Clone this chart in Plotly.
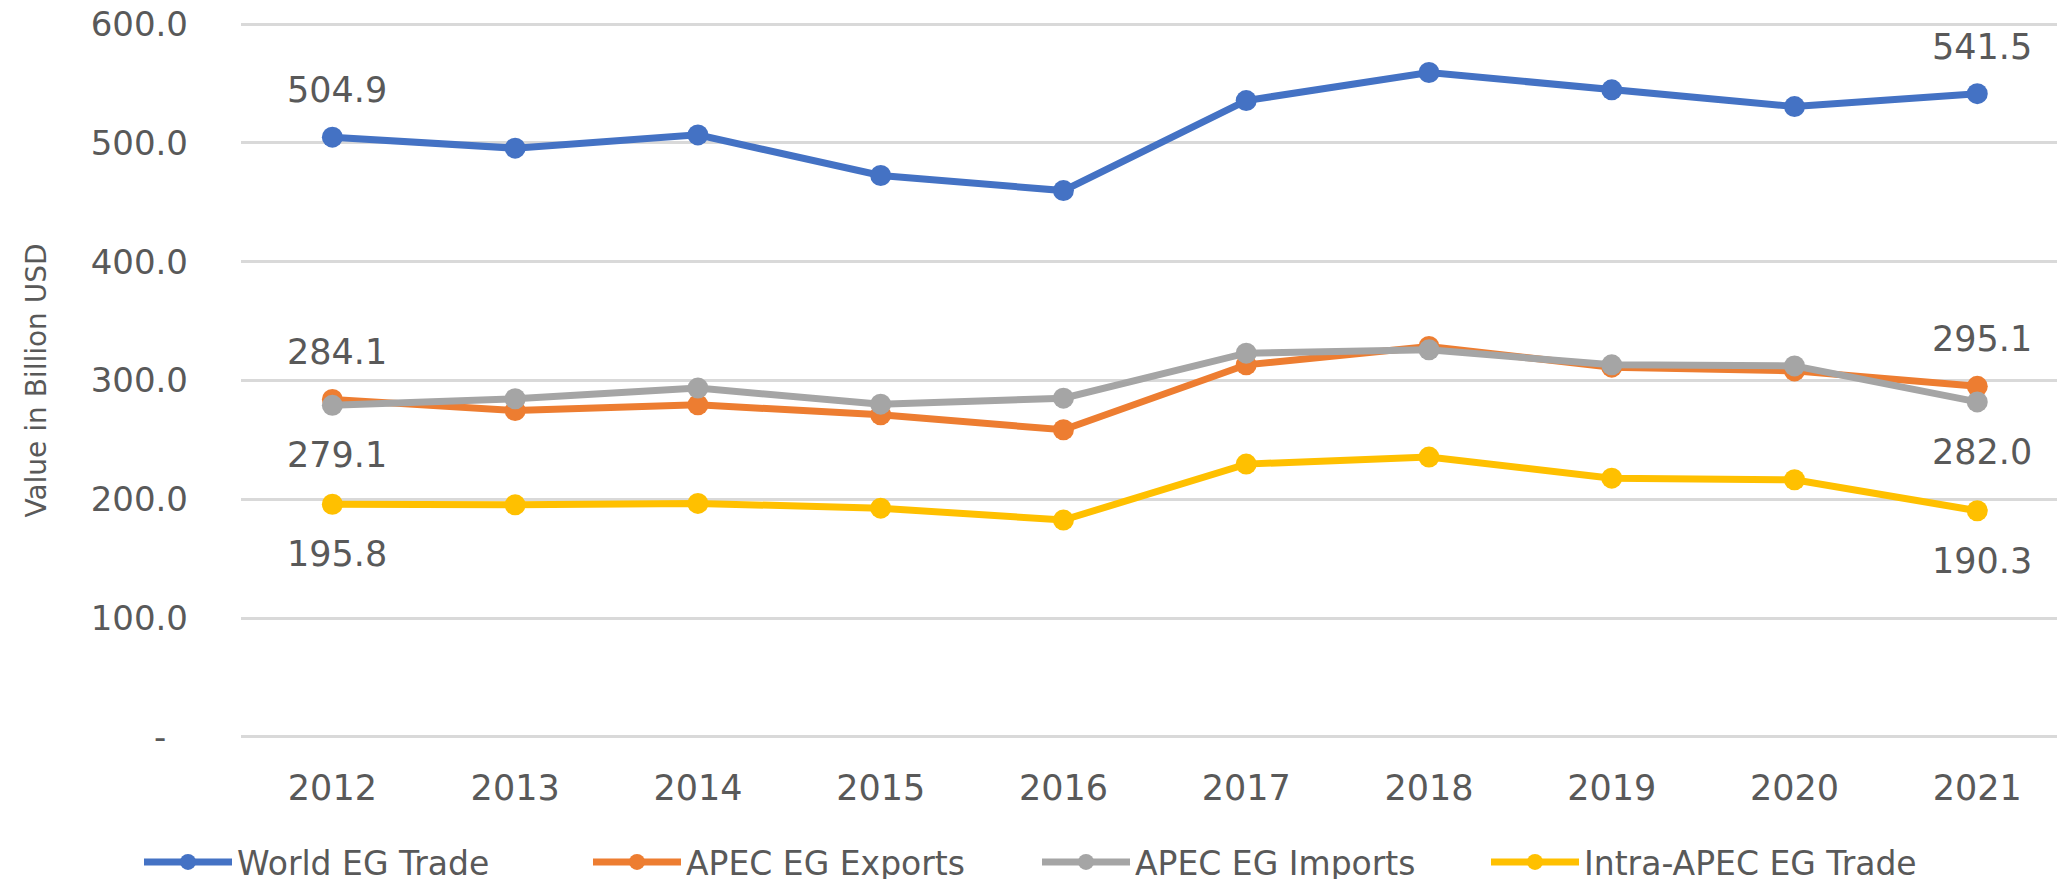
import plotly.graph_objects as go

years = ["2012", "2013", "2014", "2015", "2016", "2017", "2018", "2019", "2020", "2021"]
world_eg_trade = [504.9, 495.6, 506.8, 472.6, 459.9, 535.7, 559.3, 544.7, 530.6, 541.5]
apec_eg_exports = [284.1, 274.7, 279.5, 271.1, 258.5, 313.2, 328.6, 311.2, 308.1, 295.1]
apec_eg_imports = [279.1, 284.6, 293.6, 280.1, 285.1, 323.0, 325.8, 313.2, 312.3, 282.0]
intra_apec_eg_trade = [195.8, 195.3, 196.5, 192.5, 182.5, 229.6, 235.5, 217.8, 216.4, 190.3]

y_tick_vals = [0, 100, 200, 300, 400, 500, 600]
y_tick_text = ["-\u00a0\u00a0", "100.0", "200.0", "300.0", "400.0", "500.0", "600.0"]

series = [
    ("World EG Trade", world_eg_trade, "#4472C4", "above"),
    ("APEC EG Exports", apec_eg_exports, "#ED7D31", "above"),
    ("APEC EG Imports", apec_eg_imports, "#A5A5A5", "below"),
    ("Intra-APEC EG Trade", intra_apec_eg_trade, "#FFC000", "below"),
]

FONT = "DejaVu Sans"
TXT = "#595959"

fig = go.Figure()
annotations = []
for name, vals, color, pos in series:
    fig.add_trace(go.Scatter(
        x=years, y=vals, name=name, mode="lines+markers",
        line=dict(color=color, width=7),
        marker=dict(color=color, size=21),
    ))
    for idx in (0, len(vals) - 1):
        annotations.append(dict(
            x=idx, y=vals[idx], xref="x", yref="y",
            text=f"{vals[idx]:.1f}", showarrow=False,
            xshift=5, yshift=47 if pos == "above" else -50,
            font=dict(family=FONT, size=35, color=TXT),
        ))

fig.update_layout(
    width=2065, height=879,
    margin=dict(l=233, r=8, t=15, b=149, autoexpand=False),
    paper_bgcolor="white", plot_bgcolor="white",
    font=dict(family=FONT, color=TXT),
    annotations=annotations,
    showlegend=True,
    legend=dict(
        orientation="h", xref="container", yref="container",
        x=131 / 2065, xanchor="left", y=1 - 854 / 879, yanchor="middle",
        itemwidth=88, entrywidth=346, entrywidthmode="pixels",
        font=dict(family=FONT, size=33, color=TXT),
        traceorder="normal",
    ),
    xaxis=dict(
        type="category", range=[-0.5, 9.48],
        showgrid=False, showline=False, zeroline=False, ticks="",
        tickfont=dict(family=FONT, size=35, color=TXT),
        ticklabelstandoff=26,
    ),
    yaxis=dict(
        range=[-1, 601], tickmode="array", tickvals=y_tick_vals, ticktext=y_tick_text,
        showgrid=True, gridcolor="#D9D9D9", gridwidth=2.5,
        zeroline=False, showline=False, ticks="",
        tickfont=dict(family=FONT, size=34, color=TXT),
        ticklabelstandoff=52, ticklabeloverflow="allow",
        title=dict(text="Value in Billion USD", font=dict(family=FONT, size=28, color=TXT), standoff=35),
    ),
)

fig.write_html("out.html")
